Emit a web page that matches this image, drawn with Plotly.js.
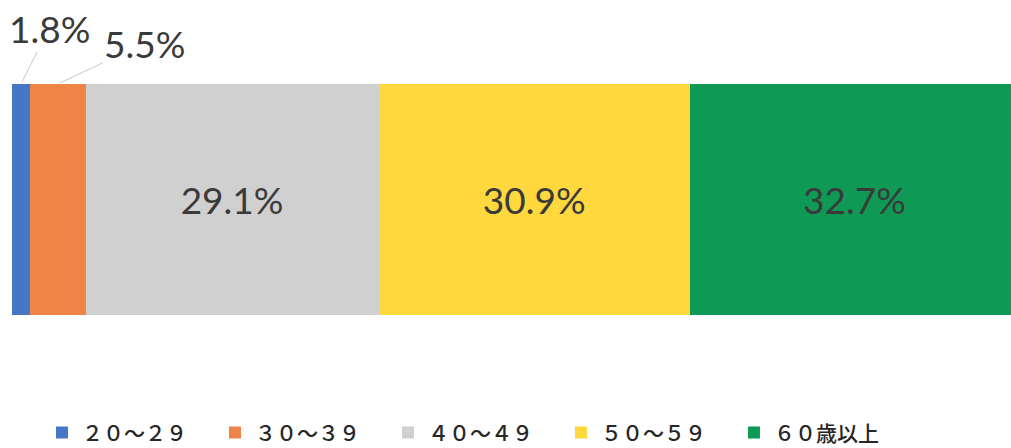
<!DOCTYPE html>
<html><head><meta charset="utf-8">
<script src="https://cdn.plot.ly/plotly-3.0.1.min.js"></script>
<style>html,body{margin:0;padding:0;background:#fff;}#chart{width:1011px;height:448px;}</style>
</head><body><div id="chart"></div>
<script>
const categories = ["２０～２９", "３０～３９", "４０～４９", "５０～５９", "６０歳以上"];
const values = [1.8, 5.5, 29.1, 30.9, 32.7];
const colors = ["#4677C6", "#EE8547", "#D0D0D0", "#FFD83D", "#0E9A55"];
const insideLabel = [false, false, true, true, true];

const traces = categories.map((c, i) => ({
  type: "bar", orientation: "h", name: c,
  x: [values[i]], y: [0], width: 1,
  marker: {color: colors[i], line: {width: 0}},
  text: insideLabel[i] ? [values[i].toFixed(1) + "%"] : [""],
  textposition: "inside", insidetextanchor: "middle",
  textfont: {family: "Lato, sans-serif", size: 37, color: "#3a3a3a"},
  hoverinfo: "none"
}));

// outside labels with leader lines for small segments
const annotations = [];
let cum = 0;
const offs = [[28, -56], [87, -41]];
values.forEach((v, i) => {
  const mid = cum + v / 2;
  cum += v;
  if (!insideLabel[i]) {
    annotations.push({
      x: mid, y: 0.5, xref: "x", yref: "y",
      text: v.toFixed(1) + "%", showarrow: true, arrowhead: 0,
      arrowwidth: 1, arrowcolor: "#c8c8c8",
      ax: offs[i][0], ay: offs[i][1], standoff: 2,
      font: {family: "Lato, sans-serif", size: 37, color: "#3a3a3a"}
    });
  }
});

const layout = {
  width: 1011, height: 448,
  margin: {l: 12, r: 0, t: 84, b: 133, autoexpand: false},
  barmode: "stack", bargap: 0,
  paper_bgcolor: "#fff", plot_bgcolor: "#fff",
  xaxis: {range: [0, 99.2], visible: false, fixedrange: true},
  yaxis: {range: [-0.5, 0.5], visible: false, fixedrange: true},
  showlegend: true,
  legend: {
    orientation: "h", x: 0.03, xanchor: "left",
    yref: "container", y: 0.034, yanchor: "middle",
    font: {family: "Noto Sans CJK JP, sans-serif", size: 21, color: "#262626", weight: 500},
    entrywidth: 128, entrywidthmode: "pixels", itemwidth: 30, traceorder: "normal"
  },
  annotations: annotations
};
Plotly.newPlot("chart", traces, layout, {staticPlot: true, displayModeBar: false});
</script></body></html>
